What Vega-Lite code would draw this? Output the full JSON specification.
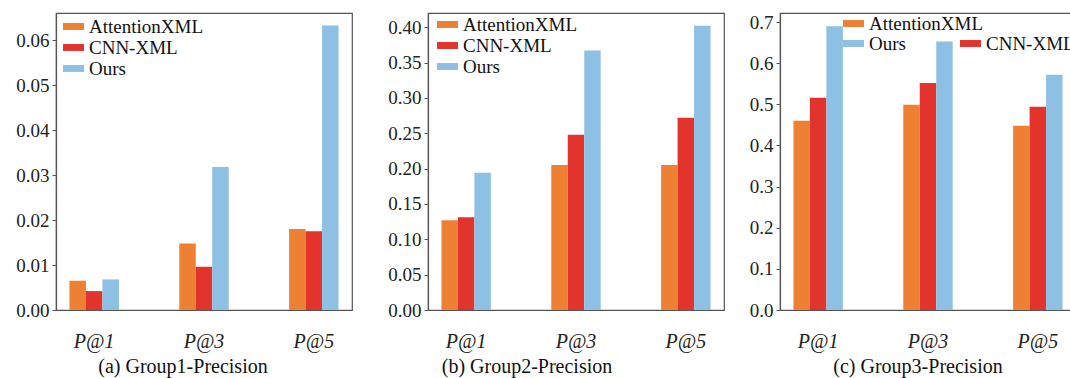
{
  "$schema": "https://vega.github.io/schema/vega-lite/v6.json",
  "padding": {"left": 15, "top": 12, "right": 0, "bottom": 0},
  "background": "white",
  "config": {
    "font": "Liberation Serif, Times New Roman, Times, serif",
    "view": {"stroke": "#555555", "strokeWidth": 1.2},
    "axis": {"labelFont": "Liberation Serif, Times New Roman, Times, serif", "labelFontSize": 19, "labelColor": "#222222", "domainColor": "#555555", "domainWidth": 1.2, "tickColor": "#555555", "grid": false, "title": null},
    "legend": {"orient": "none", "title": null, "labelFont": "Liberation Serif, Times New Roman, Times, serif", "labelFontSize": 19, "labelColor": "#111111", "symbolType": "M-1,-0.33H1V0.33H-1Z", "symbolSize": 441, "symbolStrokeWidth": 0, "rowPadding": -1, "labelOffset": 5, "padding": 0},
    "title": {"font": "Liberation Serif, Times New Roman, Times, serif", "fontSize": 20, "fontWeight": "normal", "color": "#111111", "orient": "bottom", "anchor": "middle", "frame": "group", "offset": 6}
  },
  "datasets": {
    "g1": [
      {"metric": "P@1", "method": "AttentionXML", "value": 0.0065},
      {"metric": "P@1", "method": "CNN-XML", "value": 0.0042},
      {"metric": "P@1", "method": "Ours", "value": 0.0068},
      {"metric": "P@3", "method": "AttentionXML", "value": 0.0148},
      {"metric": "P@3", "method": "CNN-XML", "value": 0.0096},
      {"metric": "P@3", "method": "Ours", "value": 0.0318},
      {"metric": "P@5", "method": "AttentionXML", "value": 0.0180},
      {"metric": "P@5", "method": "CNN-XML", "value": 0.0175},
      {"metric": "P@5", "method": "Ours", "value": 0.0632}
    ],
    "g2": [
      {"metric": "P@1", "method": "AttentionXML", "value": 0.127},
      {"metric": "P@1", "method": "CNN-XML", "value": 0.131},
      {"metric": "P@1", "method": "Ours", "value": 0.194},
      {"metric": "P@3", "method": "AttentionXML", "value": 0.205},
      {"metric": "P@3", "method": "CNN-XML", "value": 0.248},
      {"metric": "P@3", "method": "Ours", "value": 0.367},
      {"metric": "P@5", "method": "AttentionXML", "value": 0.205},
      {"metric": "P@5", "method": "CNN-XML", "value": 0.272},
      {"metric": "P@5", "method": "Ours", "value": 0.402}
    ],
    "g3": [
      {"metric": "P@1", "method": "AttentionXML", "value": 0.460},
      {"metric": "P@1", "method": "CNN-XML", "value": 0.516},
      {"metric": "P@1", "method": "Ours", "value": 0.690},
      {"metric": "P@3", "method": "AttentionXML", "value": 0.499},
      {"metric": "P@3", "method": "CNN-XML", "value": 0.552},
      {"metric": "P@3", "method": "Ours", "value": 0.653},
      {"metric": "P@5", "method": "AttentionXML", "value": 0.448},
      {"metric": "P@5", "method": "CNN-XML", "value": 0.494},
      {"metric": "P@5", "method": "Ours", "value": 0.572}
    ]
  },
  "resolve": {"scale": {"color": "independent", "y": "independent"}, "legend": {"color": "independent"}},
  "spacing": 34,
  "hconcat": [
    {
      "width": 296, "height": 297,
      "data": {"name": "g1"},
      "title": {"text": "(a) Group1-Precision", "dx": -21},
      "mark": {"type": "bar"},
      "encoding": {
        "x": {"field": "metric", "type": "nominal", "sort": ["P@1", "P@3", "P@5"], "scale": {"paddingInner": 0.55, "paddingOuter": 0.1225}, "axis": {"labelAngle": 0, "ticks": false, "labelPadding": 21, "labelFontSize": 20, "labelFontStyle": "italic"}},
        "xOffset": {"field": "method", "type": "nominal", "sort": ["AttentionXML", "CNN-XML", "Ours"], "scale": {"paddingInner": 0, "paddingOuter": 0}},
        "y": {"field": "value", "type": "quantitative", "scale": {"domain": [0, 0.066], "nice": false}, "axis": {"values": [0, 0.01, 0.02, 0.03, 0.04, 0.05, 0.06], "format": ".2f", "tickSize": 4, "labelPadding": 3}},
        "color": {"field": "method", "type": "nominal", "scale": {"domain": ["AttentionXML", "CNN-XML", "Ours"], "range": ["#EE8034", "#E2342C", "#8DC0E3"]}, "legend": {"legendX": 7, "legendY": 3}}
      }
    },
    {
      "spacing": 23,
      "resolve": {"scale": {"color": "independent", "y": "independent"}, "legend": {"color": "independent"}},
      "hconcat": [
        {
          "width": 296, "height": 297,
          "data": {"name": "g2"},
          "title": {"text": "(b) Group2-Precision", "dx": -49},
          "mark": {"type": "bar"},
          "encoding": {
            "x": {"field": "metric", "type": "nominal", "sort": ["P@1", "P@3", "P@5"], "scale": {"paddingInner": 0.55, "paddingOuter": 0.1225}, "axis": {"labelAngle": 0, "ticks": false, "labelPadding": 21, "labelFontSize": 20, "labelFontStyle": "italic"}},
            "xOffset": {"field": "method", "type": "nominal", "sort": ["AttentionXML", "CNN-XML", "Ours"], "scale": {"paddingInner": 0, "paddingOuter": 0}},
            "y": {"field": "value", "type": "quantitative", "scale": {"domain": [0, 0.42], "nice": false}, "axis": {"values": [0, 0.05, 0.1, 0.15, 0.2, 0.25, 0.3, 0.35, 0.4], "format": ".2f", "tickSize": 4, "labelPadding": 3}},
            "color": {"field": "method", "type": "nominal", "scale": {"domain": ["AttentionXML", "CNN-XML", "Ours"], "range": ["#EE8034", "#E2342C", "#8DC0E3"]}, "legend": {"legendX": 9, "legendY": 1}}
          }
        },
        {
          "width": 296, "height": 297,
          "data": {"name": "g3"},
          "title": {"text": "(c) Group3-Precision", "dx": -10},
          "mark": {"type": "bar"},
          "encoding": {
            "x": {"field": "metric", "type": "nominal", "sort": ["P@1", "P@3", "P@5"], "scale": {"paddingInner": 0.55, "paddingOuter": 0.1225}, "axis": {"labelAngle": 0, "ticks": false, "labelPadding": 21, "labelFontSize": 20, "labelFontStyle": "italic"}},
            "xOffset": {"field": "method", "type": "nominal", "sort": ["AttentionXML", "CNN-XML", "Ours"], "scale": {"paddingInner": 0, "paddingOuter": 0}},
            "y": {"field": "value", "type": "quantitative", "scale": {"domain": [0, 0.722], "nice": false}, "axis": {"values": [0, 0.1, 0.2, 0.3, 0.4, 0.5, 0.6, 0.7], "format": ".1f", "tickSize": 4, "labelPadding": 3}},
            "color": {"field": "method", "type": "nominal", "scale": {"domain": ["AttentionXML", "CNN-XML", "Ours", " "], "range": ["#EE8034", "#E2342C", "#8DC0E3", "rgba(0,0,0,0)"]}, "legend": {"legendX": 63, "legendY": 0, "values": ["AttentionXML", "Ours", " ", "CNN-XML"], "columns": 2, "gridAlign": "none", "columnPadding": -23}}
          }
        }
      ]
    }
  ]
}
